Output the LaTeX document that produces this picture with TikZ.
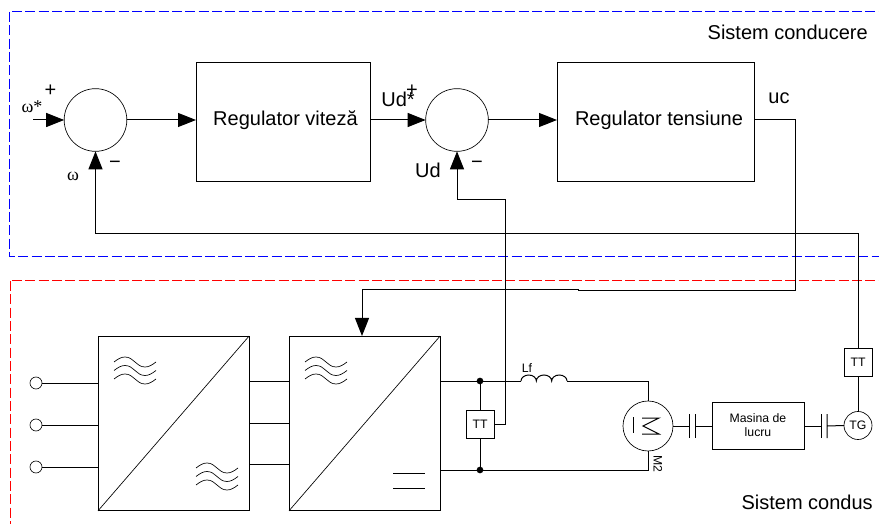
\documentclass[tikz,border=0pt]{standalone}
\usepackage{fontspec}
\setmainfont{Liberation Sans}
\newfontfamily\greekfont{Liberation Serif}
\usetikzlibrary{calc,arrows.meta}
\tikzset{
	wire/.style={line width=0.75pt},%
	flow/.style={wire,-{Triangle[length=13.5pt,width=10.5pt]}},%
	thinline/.style={line width=0.5pt},%
	controlframe/.style={blue,line width=0.75pt,dash pattern=on 7.5pt off 2.5pt},%
	drivenframe/.style={red,line width=0.75pt,dash pattern=on 7.5pt off 2.5pt},%
	sumnode/.style={circle,draw,thinline,minimum size=47pt,inner sep=0pt,outer sep=0pt},%
	block/.style={rectangle,draw,wire,inner sep=0pt,outer sep=0pt,font=\fontsize{15}{17}\selectfont},%
	converter/.style={rectangle,draw,wire,minimum width=113.25pt,minimum height=131pt,inner sep=0pt,outer sep=0pt},%
	sensor/.style={rectangle,draw,wire,minimum width=21pt,minimum height=21pt,inner sep=0pt,outer sep=0pt,font=\fontsize{9.2}{11}\selectfont},%
	terminal/.style={circle,draw,thinline,minimum size=9pt,inner sep=0pt,outer sep=0pt},%
	junction/.style={circle,fill=black,minimum size=5pt,inner sep=0pt,outer sep=0pt},%
	biglabel/.style={inner sep=0pt,font=\fontsize{15}{17}\selectfont},%
	smalllabel/.style={inner sep=0pt,font=\fontsize{9.2}{11}\selectfont},%
	greeklabel/.style={inner sep=0pt,font=\greekfont\fontsize{13.5}{15}\selectfont},%
	tildes/.pic={
		\foreach \dy in {0,8.5,17}
			\draw[thinline] (0,\dy) .. controls (4,\dy-3) and (7,\dy-5) .. (11,\dy-5) .. controls (20,\dy-5) and (22,\dy+5) .. (31,\dy+5) .. controls (35,\dy+5) and (38,\dy+3) .. (42,\dy);
	},%
}
\begin{document}
\begin{tikzpicture}[x=0.75pt,y=-0.75pt]
		\useasboundingbox (0,0) rectangle (879,524);
		% Frames {{{
		\draw[controlframe] (12,11.5) -- (879,11.5) (9.5,12) -- (9.5,256.5) -- (879,256.5);
		\draw[drivenframe] (12,280.5) -- (879,280.5) (10,281) -- (10,524);
		\node[biglabel,anchor=east] (controllabel) at (868,32) {Sistem conducere};
		\node[biglabel,anchor=east] (drivenlabel) at (873,502) {Sistem condus};
		% }}}
		% Control loop {{{
		\node[sumnode] (sumspeed) at (95.5,120) {};
		\node[sumnode] (sumvolt) at (457,120) {};
		\node[block,minimum width=130.5pt,minimum height=89.25pt] (regspeed) at (283,122.5) {};
		\node[block,minimum width=147.75pt,minimum height=89.25pt] (regvolt) at (655.5,122.5) {};
		\node[biglabel] (regspeedtext) at (285.5,120) {Regulator viteză};
		\node[biglabel] (regvolttext) at (659,120) {Regulator tensiune};
		\coordinate (speedref) at (33,120);
		\draw[flow] (speedref) -- (sumspeed.west);
		\draw[flow] (sumspeed.east) -- (sumspeed.east -| regspeed.west);
		\draw[flow] (sumvolt.west -| regspeed.east) -- (sumvolt.west);
		\draw[flow] (sumvolt.east) -- (sumvolt.east -| regvolt.west);
		\node[greeklabel] (speedrefl) at (32,107) {ω*};
		\node[greeklabel] (speedl) at (73,176) {ω};
		\node[biglabel] (plusspeed) at (50.5,91) {+};
		\node[biglabel] (minusspeed) at (115,165) {−};
		\node[biglabel] (voltref) at (398,99) {Ud*};
		\node[biglabel] (plusvolt) at (412,91) {+};
		\node[biglabel] (voltl) at (428,170) {Ud};
		\node[biglabel] (minusvolt) at (477,165) {−};
		\node[biglabel] (ucl) at (779,98) {uc};
		% }}}
		% Converters {{{
		\node[converter] (rectifier) at (173.5,423.5) {};
		\node[converter] (chopper) at (364.5,423.5) {};
		\draw[thinline] (rectifier.south west) -- (rectifier.north east);
		\draw[thinline] (chopper.south west) -- (chopper.north east);
		\pic at (114,362) {tildes};
		\pic at (196,468) {tildes};
		\pic at (305,362) {tildes};
		\draw[wire] (393,473) -- (425,473) (393,488) -- (425,488);
		\foreach \name/\yin/\ylink in {a/383/381,b/425/423,c/467/464} {
			\node[terminal] (in\name) at (36,\yin) {};
			\draw[wire] (in\name.east) -- (in\name.east -| rectifier.west);
			\coordinate (link\name) at (249,\ylink);
			\draw[wire] (link\name) -- (link\name -| chopper.west);
		}
		% }}}
		% Armature circuit {{{
		\coordinate (dcplus) at (440,381);
		\coordinate (dcminus) at (440,470);
		\coordinate (coilin) at (521,381);
		\coordinate (coilout) at (567,381);
		\node[junction] (dotplus) at (480,381) {};
		\node[junction] (dotminus) at (480,470) {};
		\node[sensor] (ttvolt) at (480,424) {TT};
		\node[circle,draw,thinline,minimum size=37.5pt,inner sep=0pt,outer sep=0pt] (motor) at (648,426) {};
		\draw[wire] (dcplus) -- (coilin);
		\draw[wire] (dcminus) -- (dotminus);
		\draw[wire] (dotplus) -- (ttvolt.north);
		\draw[wire] (ttvolt.south) -- (dotminus);
		\draw[wire] (coilin) arc[start angle=180,end angle=360,x radius=7.67,y radius=6] arc[start angle=180,end angle=360,x radius=7.67,y radius=6] arc[start angle=180,end angle=360,x radius=7.67,y radius=6];
		\draw[wire] (coilout) -| (motor.north);
		\draw[wire] (dotminus) -| (motor.south);
		\draw[wire] (633,417) -- (633,433);
		\draw[wire] (642,418) -- (659,418) -- (643,426) -- (659,434) -- (642,434);
		\node[smalllabel] (lfl) at (527,368) {Lf};
		\node[smalllabel,rotate=-90] (motorl) at (658,464) {M2};
		% }}}
		% Shaft {{{
		\node[block,minimum width=69pt,minimum height=35.25pt] (load) at (758,425.5) {};
		\node[smalllabel,align=center] (loadl) at (758,425) {Masina de\\lucru};
		\node[circle,draw,thinline,minimum size=21pt,inner sep=0pt,outer sep=0pt,font=\fontsize{9.2}{11}\selectfont] (tacho) at (858,425.5) {TG};
		\node[sensor] (ttspeed) at (858,362) {TT};
		\coordinate (clutcha) at (689,426);
		\coordinate (clutchb) at (695,426);
		\coordinate (clutchc) at (821,426);
		\coordinate (clutchd) at (827,426);
		\draw[wire] (motor.east) -- (clutcha) +(0,-12) -- +(0,12);
		\draw[wire] (clutchb) +(0,-12) -- +(0,12) (clutchb) -- (clutchb -| load.west);
		\draw[wire] (clutchc -| load.east) -- (clutchc) +(0,-12) -- +(0,12);
		\draw[wire] (clutchd) +(0,-12) -- +(0,12) (clutchd) -- (tacho.west);
		\draw[wire] (tacho.north) -- (ttspeed.south);
		% }}}
		% Feedback {{{
		\coordinate (speedbend) at (95.5,233.5);
		\coordinate (voltbend) at (505,200);
		\coordinate (ucbend) at (795,291);
		\coordinate (ucstepa) at (578,291);
		\coordinate (ucstepb) at (578,290);
		\coordinate (chopperin) at (362,336);
		\draw[flow] (ttspeed.north) |- (speedbend) -- (sumspeed.south);
		\draw[flow] (ttvolt.east) -| (voltbend) -| (sumvolt.south);
		\draw[flow] (regvolt.east |- sumvolt.east) -| (ucbend) -- (ucstepa) -- (ucstepb) -| (chopperin);
		% }}}
	\end{tikzpicture}
\end{document}
